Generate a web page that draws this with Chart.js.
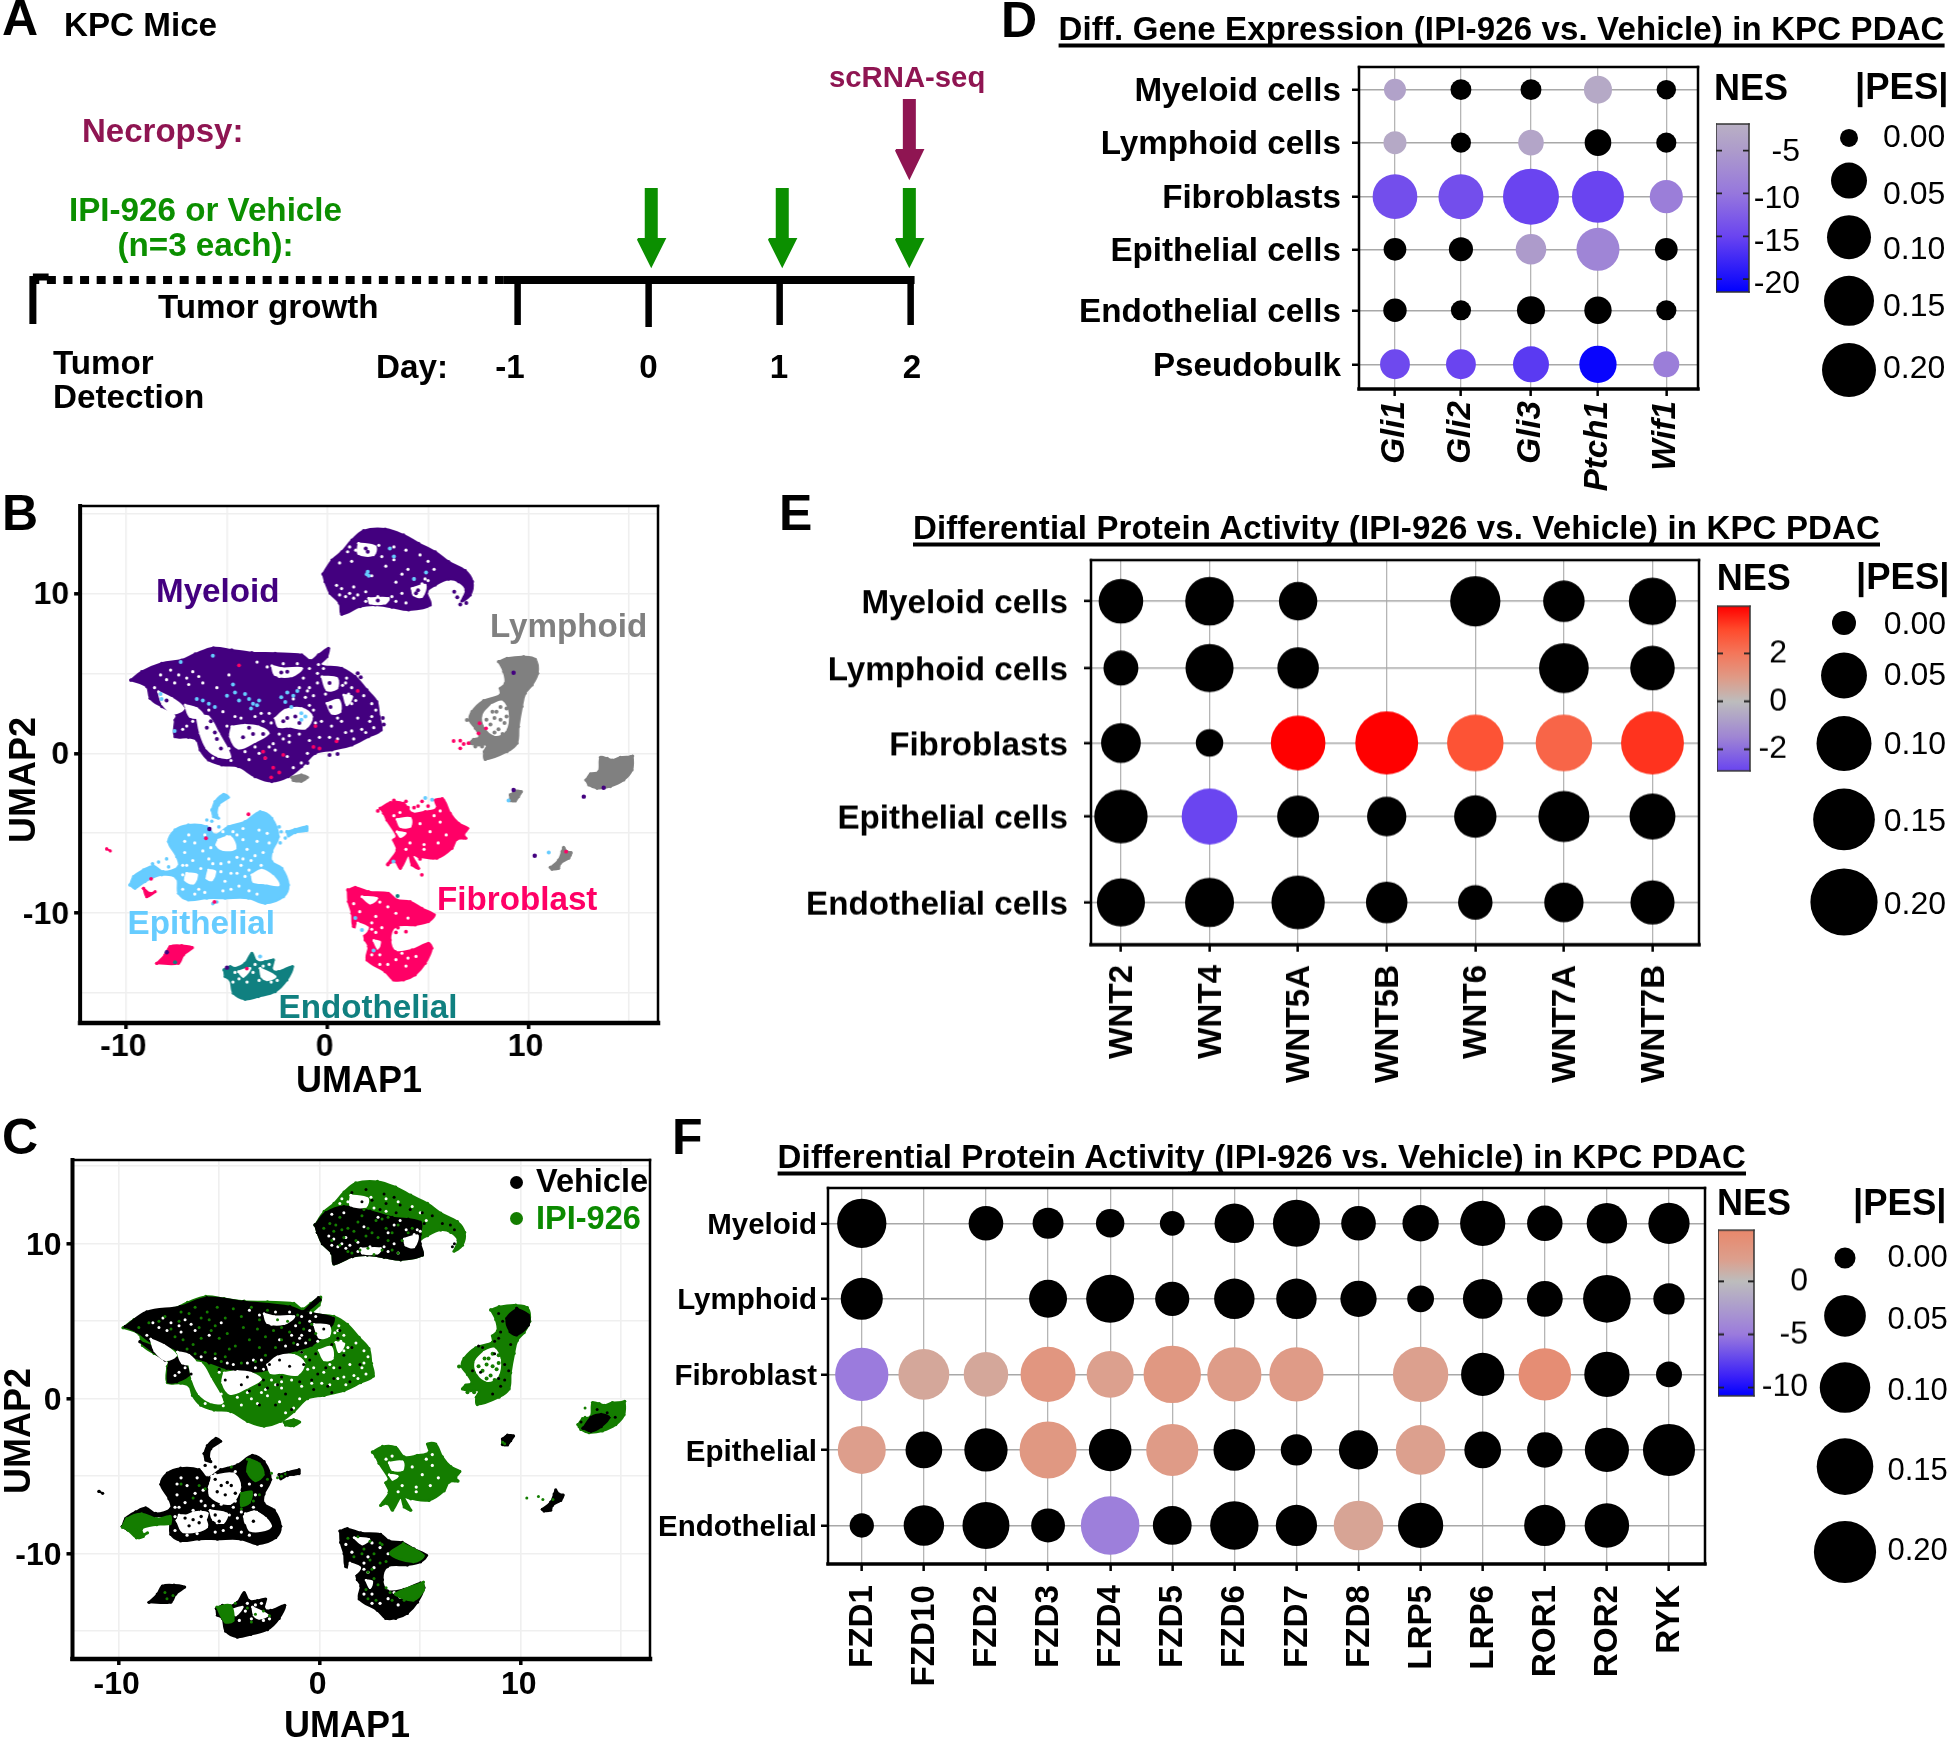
<!DOCTYPE html>
<html><head><meta charset="utf-8">
<style>html,body{margin:0;padding:0;background:#fff;width:1950px;height:1739px;overflow:hidden}
#page{position:relative;width:1950px;height:1739px;overflow:hidden}canvas{position:absolute}
.t{position:absolute;white-space:pre;line-height:1;font-family:"Liberation Sans",Arial,sans-serif;z-index:5}</style>
<script src="https://cdn.jsdelivr.net/npm/chart.js@4"></script></head><body><div id="page"></div>
<script>
/* ---------- D : Gene expression ---------- */
const D_rows=['Myeloid cells','Lymphoid cells','Fibroblasts','Epithelial cells','Endothelial cells','Pseudobulk'];
const D_cols=['Gli1','Gli2','Gli3','Ptch1','Wif1'];
const D_pes=[[.011,.008,.008,.028,.004],[.014,.006,.021,.024,.006],[.106,.108,.225,.175,.042],[.013,.017,.035,.094,.013],[.015,.006,.028,.026,.006],[.033,.033,.05,.058,.022]];
const D_nes=[[-4,null,null,-3,null],[-3,null,-3.5,null,null],[-14,-14,-15,-15,-9],[null,null,-5,-8,null],[null,null,null,null,null],[-14.5,-15,-16,-21,-9]];
const D_rowPos=[0,.981,1.981,2.956,4.085,5.085];
const D_colPos=[0,.97,2,2.985,3.99];
/* ---------- E : WNT ---------- */
const E_rows=['Myeloid cells','Lymphoid cells','Fibroblasts','Epithelial cells','Endothelial cells'];
const E_cols=['WNT2','WNT4','WNT5A','WNT5B','WNT6','WNT7A','WNT7B'];
const E_pes=[[.047,.065,.033,null,.074,.04,.058],[.025,.062,.04,null,null,.071,.047],[.036,.008,.098,.161,.111,.111,.161],[.091,.106,.041,.035,.042,.078,.05],[.062,.067,.091,.04,.024,.035,.046]];
const E_nes=[[null,null,null,null,null,null,null],[null,null,null,null,null,null,null],[null,null,3.97,3.97,2.8,2.4,3.3],[null,-2.9,null,null,null,null,null],[null,null,null,null,null,null,null]];
const E_rowPos=[0,.954,2.023,3.073,4.299];
const E_colPos=[0,1,2,3,4,5,6];
/* ---------- F : FZD ---------- */
const F_rows=['Myeloid','Lymphoid','Fibroblast','Epithelial','Endothelial'];
const F_cols=['FZD1','FZD10','FZD2','FZD3','FZD4','FZD5','FZD6','FZD7','FZD8','LRP5','LRP6','ROR1','ROR2','RYK'];
const F_pes=[[.093,null,.033,.024,.018,.009,.045,.08,.033,.037,.07,.035,.047,.049],
[.052,null,null,.041,.086,.032,.047,.047,.037,.014,.045,.036,.084,.025],
[.123,.103,.066,.137,.08,.157,.13,.13,null,.14,.059,.116,.07,.012],
[.086,.038,.059,.154,.055,.113,.05,.025,.044,.095,.038,.035,.064,.113],
[.008,.047,.08,.031,.168,.043,.088,.049,.095,.07,null,.049,.066,null]];
const F_nes=[[null,null,null,null,null,null,null,null,null,null,null,null,null,null],
[null,null,null,null,null,null,null,null,null,null,null,null,null,null],
[-5,1.5,1.5,3.2,2,3,2.5,2.6,null,2,null,4.2,null,null],
[2.2,null,null,3,null,2.6,null,null,null,2,null,null,null,null],
[null,null,null,null,-4.7,null,null,null,1.7,null,null,null,null,null]];
const F_rowPos=[0,1,2,3,4];
const F_colPos=[0,1,2,3,4,5,6,7,8,9,10,11,12,13];
/* ---------- legends ---------- */
const PES_levels=[0,.05,.1,.15,.2];
const PES_labels=['0.00','0.05','0.10','0.15','0.20'];
/* ---------- B / C : UMAP traced clusters, in UMAP units ---------- */
const umapTicks=[-15,-10,-5,0,5,10,15];
const MY_TOP=[[-.23,11.21],[.22,12.08],[.71,12.6],[1.21,13.33],[1.79,13.92],[2.87,14.02],[3.78,13.65],[4.53,13.13],[5.36,12.6],[6.02,11.98],[6.85,11.42],[7.21,10.73],[7.1,9.9],[6.68,9.52],[6.88,10.21],[6.52,10.73],[6.02,10.88],[5.36,10.52],[4.94,10.1],[5.11,9.27],[4.03,8.96],[3.2,9.13],[2.37,9.27],[1.63,9.17],[.71,8.69],[.6,9.38],[.13,10],[-.12,10.73]];
const MY_MAIN=[[-9.78,4.58],[-9.24,5.1],[-8.24,5.63],[-7.25,5.83],[-6.58,6.21],[-5.67,6.6],[-4.76,6.46],[-3.76,6.29],[-2.6,6.25],[-1.28,6.15],[-.86,5.79],[-.45,6.15],[.05,6.56],[-.03,6.04],[-.36,5.52],[.71,5.31],[1.38,4.79],[1.96,3.96],[2.45,3.23],[2.57,2.29],[2.67,1.46],[2.04,1.04],[1.21,.52],[.22,.21],[-.61,0],[-1.28,-.83],[-1.94,-1.46],[-2.77,-1.77],[-3.6,-1.46],[-4.43,-.83],[-5.26,-.73],[-5.92,-.42],[-6.33,.21],[-6.5,.83],[-6.92,1],[-7.58,1.04],[-7.58,2.08],[-7.5,2.4],[-8.24,2.92],[-8.82,3.44],[-8.99,4.17]];
const MY_HOLES=[[[-6.5,2.29],[-5.92,2.29],[-5.42,1.25],[-4.84,-.21],[-5.42,-.21],[-6,.31],[-6.33,1.25]],
[[-8.41,3.85],[-7.74,3.44],[-7.16,2.81],[-7.66,2.5],[-8.21,3.08]],
[[-7.08,3.02],[-6.5,2.81],[-6.17,2.29],[-6.83,2.29]],
[[-4.76,1.67],[-4.1,1.77],[-3.43,1.67],[-2.94,1.25],[-3.6,.73],[-4.43,.31],[-4.84,1.04]],
[[-2.6,2.19],[-2.1,2.71],[-1.28,2.81],[-.78,2.29],[-1.11,1.56],[-1.94,1.67],[-2.44,1.67]],
[[-.28,4.79],[.46,4.69],[.46,4.06],[-.03,3.96]],
[[-.03,3.13],[.55,3.33],[.63,2.6],[.22,2.5]],
[[-2.77,5.48],[-2.27,5.31],[-1.28,5.31],[-1.77,4.83],[-2.6,4.9]],
[[.8,3.65],[1.21,3.54],[.96,3.02]],
[[1.54,13.13],[2.37,12.92],[2.29,12.4],[1.54,12.48]],
[[4.2,10.31],[4.86,10.52],[4.69,9.79],[4.28,9.9]],
[[2.04,9.69],[3.03,9.69],[2.87,9.38],[2.12,9.38]]];
const MY_SPECKS=[[-8.3,4.9],[-8,4.6],[-7.4,4.9],[-7,4.7],[-6.9,4.3],[-6.4,4.8],[-6.2,4.4],[-8.6,4.1],[-5.9,2.7],[-5.2,2.6],[-4.6,2.3],[-4.3,2.2],[-5,1.7],[-3.2,2],[-2.9,2.5],[-2.8,1.9],[-2.4,1.2],[-1.9,1.1],[-1.4,1.2],[-.6,1.9],[-.3,2],[-3,5.4],[-2.4,4.8],[-1.5,5.6],[-.9,5.3],[-.5,5],[-.2,5.3],[-1.2,4.7],[-2,3.8],[-1.4,4.1],[-1.7,3.4],[.9,4.4],[1.2,4.1],[1.2,3.1],[1.5,2.2],[2.2,2.3],[2.1,2],[1.7,1.5],[1.2,1.4],[.9,1.3],[2.3,1.6],[.2,1.7],[.7,2],[-3.4,0],[-3.1,-.3],[-2.6,.2],[-2,-.2],[-1.7,-.9],[-1.3,-.6],[-1,0],[-.7,-.3],[-1.9,.7],[-2.7,.6],[-5.3,.7],[-4.9,.3],[-5.7,-.3],[-4.8,-.45],
[-7.8,5.2],[-7.6,4.4],[-6.7,5.1],[-5.5,4.1],[-4.9,4.9],[-3.5,5.7],[-2.2,5.6],[-3.6,2.3],[-3.3,2.5],[-2.2,.9],[-2.9,.4],[-3.6,.4],[-4.1,.1],[-3.9,-.4],[-.9,.8],[-.4,1],[.1,1],[.5,.9],[1.3,.9],[1.9,1.3],[2.4,2.7],[2.2,3.1],[1.8,3.6],[1.4,3.3],[-.1,3.7],[.5,2.2],[-.9,3],[-.7,2.7],[-.7,3.6],[-1.1,3.5],[-6.7,2],[-7,1.7],[-7.2,1.5],[-.5,4.4],[-.9,4.1],[-1,3.9],[.95,4.7],[.75,4.25],[1.05,3.7],[-.45,5.55],
[1,12.6],[1.2,12],[2.7,12.3],[2.9,11.7],[3.9,12.7],[4.6,12.4],[5,12],[5.3,11.5],[1.1,10],[.9,9.8],[1.5,9.9],[1.9,10.1],[2.5,9.8],[3.2,9.8],[3.7,10],[4.3,10.9],[3.4,10.7],[2.2,11.1],[.7,10.3],[3.3,12.9],[.6,11.9],[1.4,12.7],[1.1,12.9],[2.55,13],[3.3,12.1],[4,11.5],[3.7,11.2],[4.7,10.6],[5,10.8],[4.85,10.9],[3.9,9.4],[3.4,9.5],[1.9,9.5],[1.3,9.7],[1.3,10.4],[.6,9.9],[.45,10.5]];
const MY_BACK=[[-5.6,1.3],[-5.5,.9],[-6,1.6],[-5.8,2],[-5.3,.3],[-4.2,1],[-3.7,1.2],[-3.9,1.6],[-3.2,1.2],[-2,2.2],[-1.6,2.3],[-1.4,1.9],[-2.2,2],[.1,4.4],[.15,2.9],[-2,5.1],[-2.3,5.05],[1.9,12.8],[2,12.6],[4.5,10.2],[4.4,10],[2.5,9.55],[-8,3.3],[6.6,9.3],[6.45,9.75],[6.3,10.1],[6.9,9.4],[1.65,4.75],[1.5,5],[2.8,1.8],[2.75,2.2],[.5,-.05],[.1,-.1],[-1,-.6]];
const MY_CYAN=[[-6.5,3.4],[-6.2,3.3],[-5.9,3.1],[-5.6,2.9],[-5,3.6],[-4.6,3.8],[-4.4,3.3],[-4.1,3.7],[-3.9,3.4],[-3.7,3.1],[-3.5,3],[-3.4,3.3],[-3.8,2.8],[-2.3,3.5],[-2.1,3.2],[-2,3.8],[-1.7,3.6],[-1.5,3.9],[-1.8,2.9],[-1.3,2.5],[-1.1,2.3],[-1.3,2.1],[-8.3,3.7],[-8.25,3.4],[-7.3,5.7],[-5.7,6.1],[-4.7,4.3],[-7.6,1.4],[1.95,11.2],[2.05,11.1],[2,11.35],[3.3,12.3],[4.9,11.3],[4.3,10.9],[3.1,12.8],[1.38,-10.3],[1.71,-11.04],[2.29,-12.33],[3.28,-6.77],[4.86,-2.8],[5.2,-2.9],[-3.35,-12.7],[11,-6.2],[9,-2.95]];
const PINK_DOTS=[[-4.4,5.5],[1.5,3.9],[-.6,1.7],[-3.2,.1],[-3.1,-.3],[-2.2,-.1],[-2.7,-.9],[-2.4,-1.2],[-2.8,-1.5],[-.7,.4],[-.4,.3],[.45,.75],[6.27,.77],[6.6,.79],[6.77,.58],[7.01,.63],[6.6,.31],[7.51,1.25],[7.88,1.56],[7.56,1.88],[11.86,-6.15],[-6.04,-5.31],[-3.93,-3.81],[-8.77,-7.85],[-5.62,-9.29],[-4.01,-13.46],[4.7,-3],[4,-3.4],[4.5,-3.3],[4.69,-7.6],[2.5,-3.6],[3.3,-2.95],[3.9,-3],[4.3,-3.4],[5.7,-2.85],[5,-3.3],[4.6,-6.6],[5.1,-6.5],[3,-6.95],[2.6,-12.3],[3.5,-10.9],[3.9,-11.15],[3.4,-11.2]];
const PURPLE_DOTS=[[9.25,5.04],[9.25,-2.29],[10.3,-6.4],[12.74,-2.71],[13.73,-2.15],[-5.87,-4.73],[-5,-13.4],[-7.99,-12.44]];
const LY_MAIN=[[8.51,5.73],[8.92,5.94],[9.75,6.04],[10.33,5.88],[10.45,5],[10.17,4.27],[9.83,3.75],[9.67,2.92],[9.5,1.67],[9.42,.63],[8.92,.1],[7.84,-.38],[7.79,.1],[7.93,.52],[7.51,.52],[7.1,.63],[7.26,.88],[7.56,1],[7.35,1.56],[7.06,2.08],[7.18,2.6],[7.76,3.29],[8.59,3.65],[8.59,4.06],[8.84,4.38],[8.76,5.1]];
const LY_HOLE=[[8.18,3.02],[8.67,3.23],[8.96,2.5],[8.84,1.46],[8.34,1.15],[7.84,1.67],[7.76,2.4]];
const LY_DOTS=[[8.4,2.6],[8.6,2.9],[8.9,2.8],[8.3,2.2],[8.6,2.1],[8.8,1.9],[8.1,1.8],[8.5,1.5],[8.9,2.3],[8.3,1.3],[8.7,1.2],[7.9,2.1],[8.2,2.6],[6.93,2.08],[7.35,.42],[7.68,.42]];
const LY_RIGHT=[[12.85,-1.67],[13.07,-1.29],[13.48,-1.15],[13.57,-.25],[13.9,-.31],[14.15,-.42],[14.56,-.25],[15.06,-.21],[15.17,-.17],[15.14,-1.04],[14.73,-1.67],[14.06,-2.08],[13.4,-2.19],[12.99,-1.98]];
const LY_SMALL=[[9.09,-2.6],[9.34,-2.35],[9.64,-2.4],[9.5,-2.71],[9.34,-2.98],[9.09,-2.96]];
const LY_LOW=[[11.08,-7.13],[11.49,-6.67],[11.66,-6.15],[11.74,-5.88],[11.91,-6.15],[12.11,-6.21],[11.99,-6.56],[11.58,-6.88],[11.49,-7.19],[11.16,-7.25]];
const LY_UNDER=[[-1.77,-1.5],[-1.3,-1.35],[-1,-1.5],[-1.3,-1.75],[-1.7,-1.7]];
const EP_MAIN=[[-9.82,-8.23],[-9.65,-7.71],[-9.15,-7.29],[-8.66,-7.04],[-8.16,-7.4],[-7.41,-7.08],[-7.5,-6.46],[-7.91,-5.52],[-7.58,-4.79],[-6.92,-4.48],[-6,-4.58],[-5.59,-5.1],[-4.93,-4.58],[-4.1,-4.27],[-3.35,-3.65],[-2.77,-4.06],[-2.44,-5.21],[-2.77,-6.15],[-2.77,-6.77],[-2.27,-7.19],[-1.94,-8.23],[-2.19,-8.96],[-3.1,-9.38],[-3.93,-9.06],[-5.09,-9.06],[-6,-9.06],[-6.92,-9.17],[-7.41,-8.75],[-7.5,-7.81],[-8.24,-7.6],[-9.07,-8.02],[-9.57,-8.44]];
const EP_TENT=[[-5.75,-3.54],[-5.59,-3.02],[-5.17,-2.56],[-4.93,-2.75],[-5.42,-3.23],[-5.51,-3.85],[-5.42,-4.06],[-5.67,-3.96]];
const EP_STREAK=[[-2.02,-4.9],[-1.61,-4.75],[-1.03,-4.58],[-1.03,-4.83],[-1.61,-4.96],[-1.94,-5.17]];
const EP_HOLES=[[[-3.76,-7.6],[-3.27,-7.29],[-2.69,-7.71],[-2.44,-8.23],[-3.1,-8.13],[-3.68,-8.02]],
[[-5.42,-5.42],[-4.84,-5.21],[-4.59,-5.94],[-5.17,-6.04],[-5.51,-5.73]],
[[-7,-7.5],[-6.5,-7.6],[-6.67,-8.13],[-7.08,-7.92]],
[[-5.92,-7.29],[-5.59,-7.4],[-5.75,-7.92],[-6,-7.81]]];
const EP_SPECKS=[[-6.6,-5.6],[-6.2,-6.1],[-5.9,-6.6],[-6.7,-6.7],[-7.1,-6.2],[-4.5,-6.5],[-4.2,-5.4],[-4,-6],[-4.3,-7],[-3.8,-6.7],[-3.5,-5.5],[-3.2,-6.2],[-4.8,-7.5],[-5.1,-8],[-4.4,-8.3],[-4.1,-7.7],[-5.3,-6.9],[-6.4,-8.5],[-5.2,-8.6],[-7.2,-8.5],[-3.9,-8.6],[-6.9,-5.1],[-4.7,-4.9],[-4.5,-5.1],[-4.2,-4.7],[-7.1,-5.5],[-7,-7],[-6.1,-5.1],[-5.8,-5.9],[-5.7,-6.9],[-6.3,-7.2],[-5.3,-7.4],[-4.9,-6.8],[-4.2,-6.6],[-4.5,-7.5],[-3.9,-7.3],[-4.8,-8.5],[-3.5,-8.8],[-6.1,-8.7],[-6.6,-8.8],[-7.2,-7.6],[-7.2,-7],[-3.4,-4.8],[-3,-5],[-2.9,-5.6],[-3.6,-6.4],[-3.3,-7],[-5.2,-4.9],[-5,-5.2]];
const EP_OUT=[[-6,-4.17],[-5.75,-4.25],[-5.4,-4.6],[-2.4,-4.6],[-2.3,-4.9],[-2.1,-5.3],[-2.35,-5.6],[-8,-6.6],[-8.4,-6.8],[-8.7,-6.9],[-7.9,-7.1],[-5.7,-9.4],[-5.5,-9.3]];
const FB_UP=[[2.62,-3.44],[3.12,-3.08],[3.78,-3.13],[4.2,-3.75],[4.86,-3.65],[5.44,-3.44],[5.36,-2.92],[5.77,-2.92],[6.1,-3.75],[6.52,-4.38],[6.97,-4.69],[6.77,-5.1],[6.88,-5.31],[6.43,-5.38],[6.19,-5.94],[5.44,-6.56],[4.53,-6.46],[4.2,-6.35],[4.53,-7.19],[4.2,-6.98],[4.03,-6.35],[3.62,-7.19],[3.37,-6.77],[3.03,-6.88],[3.45,-6.04],[3.28,-5.42],[3.45,-5.21],[2.95,-4.17],[2.79,-3.75]];
const FB_UP_HOLES=[[[3.45,-4.13],[4.11,-4.06],[4.11,-4.58],[3.62,-4.58]],[[3.45,-4.9],[3.86,-5],[3.62,-5.21]]];
const FB_UP_SPECKS=[[3.6,-3.7],[3.3,-3.9],[4.6,-4.4],[5.1,-4.9],[5.6,-4.3],[5.5,-5.6],[4.8,-5.7],[4.1,-5.6],[5.9,-5.1],[5.3,-3.9],[4.8,-6],[3.9,-6],[5.6,-3.6],[5.2,-3.3],[4.9,-3.45]];
const FB_LOW=[[1.01,-8.54],[1.38,-8.38],[2.04,-8.65],[3.03,-8.75],[3.45,-9.17],[4.11,-9.27],[4.69,-9.69],[5.31,-10.1],[5.02,-10.52],[4.36,-10.73],[3.37,-10.83],[3.12,-11.67],[3.37,-12.4],[4.2,-12.29],[5.02,-11.88],[5.19,-12.19],[4.86,-13.13],[4.36,-13.85],[3.78,-14.17],[3.28,-14.17],[2.87,-13.65],[1.96,-12.92],[2.04,-12.08],[1.87,-11.67],[1.71,-11.04],[1.29,-10.83],[1.21,-10],[1.04,-9.27]];
const FB_LOW_HOLES=[[[1.71,-8.96],[2.45,-9.06],[2.12,-9.38]],[[1.5,-10.6],[2,-10.9],[1.75,-11.3],[1.45,-11.1]],[[2.3,-11.7],[2.6,-11.8],[2.5,-12.2]]];
const FB_LOW_SPECKS=[[1.3,-9.4],[2.6,-9.3],[3,-9.6],[3.4,-10],[4,-10.3],[2.4,-10.2],[2.2,-10.6],[1.6,-9.9],[2.4,-11.2],[2.7,-10.9],[2.2,-11],[2.6,-12.6],[3.4,-12.9],[4,-12.8],[4.4,-12.7],[3.9,-13.3],[3,-13.2],[2.6,-13.2],[3.7,-12.5],[2.2,-12.6]];
const FB_SMALL=[[-8.49,-13.13],[-8.08,-12.6],[-7.83,-12.08],[-7.25,-12.02],[-6.72,-12.15],[-7.16,-12.6],[-7.41,-13.13]];
const FB_TAIL=[[-9.15,-8.44],[-8.82,-8.75],[-8.57,-8.65],[-8.99,-8.96]];
const FB_LEFT=[[-10.98,-5.98],[-10.8,-6.1]];
const EN_MAIN=[[-5.14,-13.54],[-4.84,-13.33],[-4.59,-13.44],[-4.1,-13.13],[-3.76,-12.5],[-3.52,-13.02],[-3.1,-13.02],[-2.69,-12.92],[-2.77,-13.54],[-2.44,-13.65],[-1.74,-13.33],[-2.02,-14.17],[-2.6,-14.9],[-3.43,-15.21],[-4.1,-15.38],[-4.68,-15],[-4.84,-14.17],[-5.09,-13.96]];
const EN_HOLES=[[[-3.35,-13.44],[-2.6,-13.96],[-3.01,-14.17],[-3.27,-13.96]],[[-4.43,-13.65],[-3.85,-13.44],[-4.18,-13.96]]];
const EN_SPECKS=[[-4.6,-13.7],[-4.4,-14.1],[-3.7,-13.7],[-3.4,-14.2],[-2.8,-14.3],[-2.5,-14.2],[-2.9,-13.2],[-3.2,-13.3],[-4.7,-14.3],[-4,-14.3],[-3.6,-13.2]];
/* ---------- C only : treatment overlay, UMAP units ---------- */
const C_BLACK_TOP=[[-.23,11.21],[.3,12],[1.2,12.4],[2.5,12.1],[3.6,11.7],[5,11.4],[5,10.6],[5,10],[5.11,9.27],[4.03,8.96],[3.2,9.13],[2.37,9.27],[1.63,9.17],[.71,8.69],[.6,9.38],[.13,10],[-.12,10.73]];
const C_BLACK_MAIN=[[-9.68,4.65],[-8.61,5.61],[-6.95,5.94],[-5.62,6.52],[-3.8,6.26],[-1.48,5.94],[-.81,5.61],[.68,5.18],[.35,4.32],[-.4,3.46],[-1.14,3.14],[-1.81,2.82],[-2.47,1.96],[-3.47,1.74],[-4.63,1.96],[-5.54,2.39],[-6.62,2.82],[-7.45,3.35],[-8.28,3.57],[-9.1,4.32]];
const C_BLACK_LOW=[[-7.45,2.82],[-6.78,2.39],[-6.53,1.53],[-7.11,1.1],[-7.53,1.1],[-7.53,1.96]];
const C_BLACK_STRIP=[[-8.94,3.68],[-8.28,3.03],[-7.69,2.49],[-7.9,3.1]];
const C_BLACK_SPIKE=[[-.81,5.61],[-.07,6.52],[.02,6.37],[-.56,5.72]];
const C_BLACK_LY=[[9.8,5.83],[10.38,5.4],[10.38,4.75],[9.8,4.11],[9.47,4.32],[9.3,5.18]];
const C_BLACK_LYR=[[13.1,-1.9],[13.5,-1.2],[14,-1],[14.4,-1.2],[14,-1.8],[13.5,-2.1]];
const C_GREEN_EPTAIL=[[-9.82,-8.28],[-9.6,-7.74],[-8.86,-7.42],[-8.11,-7.74],[-7.45,-7.59],[-7.45,-8.06],[-8.11,-8.13],[-8.86,-8.39],[-8.78,-8.88],[-9.12,-8.97],[-9.53,-8.49]];
const C_GREEN_EPUP=[[-3.5,-3.9],[-3,-4.2],[-2.8,-4.9],[-3.2,-5.3],[-3.6,-4.7]];
const C_GREEN_EPMID=[[-3.9,-6.1],[-3.4,-6],[-3.5,-6.7],[-3.9,-6.9]];
const C_GREEN_EN=[[-5.12,-13.44],[-4.46,-13.33],[-4.3,-14.3],[-4.71,-14.41]];
const C_GREEN_FB1=[[4.16,-9.35],[5.16,-10.11],[4.66,-10.54],[3.5,-10]];
const C_GREEN_FB2=[[5.16,-11.83],[5.16,-12.37],[4.66,-13.01],[4,-12.8],[3.75,-12.58]];
const C_EP_HOLES=[[[-5.37,-5],[-4.3,-4.84],[-3.96,-5.7],[-4.46,-6.77],[-5.46,-6.24]],[[-7.11,-7.85],[-6.04,-7.31],[-5.62,-8.28],[-6.78,-8.6]],[[-3.71,-7.42],[-3.13,-7.31],[-2.47,-8.28],[-3.47,-8.49]],[[-5.46,-7.2],[-4.63,-7.42],[-4.8,-8],[-5.3,-7.8]]];
const C_EP_BLACKDOTS=[[-5.2,-5.2],[-4.9,-5.6],[-4.6,-5.4],[-5.1,-6],[-4.7,-6.2],[-4.4,-5.6],[-4.2,-6.1],[-6.7,-7.7],[-6.3,-7.8],[-6.5,-8.2],[-6,-8],[-5.9,-7.6],[-5.2,-7.5],[-5,-7.9],[-3.3,-7.9],[-5.5,-3.9],[-5.7,-4.3],[-5.2,-4.4],[-4.6,-4.5]];
const C_BLACK_OVER=[[1.6,13.3],[2.3,13.5],[3.2,13.2],[3.7,13],[3.3,12.6],[4,12.5],[4.5,12.2],[5.1,12],[5.6,11.8],[6.1,11.3],[6.5,11.2],[6.7,10.9],[2.6,12.8],[4.4,11.6],[5.2,11.3],[6.7,10],[6.6,9.8],[3.8,12],[3,12.2],[2.1,12.7],[.3,2],[-.4,1.2],[-2.2,-.4],[-3,.9],[-1.5,2.1],[-.2,2.9],[-.6,3.4],[.6,.4],[-1.9,1.4],[-4.2,1.9],[-3.6,1.4],[-2.9,1.8],[-3.9,.9],[-2.5,2.2],[-2,2.5],[-5,1.9],[-5.5,2.3],[-6.4,1.6],[.2,4.5],[.6,4.8],[8.9,5.5],[9.1,5],[9.4,4.7],[9,4.3],[8.9,3.9],[8.7,3.7],[7.9,3.4],[8.1,3.3],[9.5,3.5],[9.2,2.2],[9.4,1.8],[8.9,1.3],
[-3.5,.5],[-2.6,.7],[-1.7,.3],[-1,1.1],[-.3,.6],[.7,1.3],[1.5,1.1],[2,2.2],[1.2,2.8],[.6,3.5],[-3,-.4],[-1.4,-.7],[-.8,2.2],[-2.8,1.2],[-4.7,1.2],[-2.1,.9],[.4,.8],[1,2],[-.1,1.6],[-.5,2.5],[-.9,3],[1,4.4],[.9,3.9],[1.6,3.3],[9,.8],[8.6,.3],[9.2,1.2],[8,1.7],[8.7,2.9],[7.6,1.8],[13.8,-.7],[14.3,-.9],[13,-1.5],[14.7,-1.2]];
const C_GREEN_OVER=[[.5,11.3],[1,11.7],[1.4,11],[1.9,11.4],[2.4,11],[2.8,11.5],[3.3,11],[3.9,11.2],[4.4,10.7],[1.2,10.4],[1.8,10.2],[2.3,10.5],[2.9,10.4],[3.4,10.2],[2,9.6],[2.7,9.3],[1.4,9.5],[3.6,9.6],[.7,10.8],[-8,5],[-7,5],[-6.5,5.5],[-6,4.6],[-5.6,5.6],[-5.2,4.7],[-5,3.9],[-6.3,3.5],[-5.7,3],[-4.7,2.7],[-4.3,5.8],[-4.2,3.4],[-3.5,3.8],[-3,5.1],[-2.7,4],[-2.2,3.3],[-1.6,5],[-1.1,5.4],[-1.9,4.6],[-.8,4.5],[-.5,3.8],[-5.5,5.1],[-6.8,3.8],[-7.2,4],[-4.9,2.4],[-2.4,-4.8],[-2.6,-5.2],[-2.1,-5.1],[-3.6,-3.9],[-4.4,-4.4],[-3,-6.2],[-3.3,-6.6],[-3.9,-7.1],[-7.7,-12.5],[-7.3,-12.7],[-7.6,-12.9],[-4.2,-13.2],[-3.6,-13.5],[-3.2,-13.9],[-2.8,-13.7],[-3.4,-14.4],[-2.5,-14],[1.7,-10.2],[2.2,-9.7],[2.7,-10],[3,-10.6],[2.6,-11],[3,-9.3],[2.8,-13],[3.5,-12.5],[2.3,-12.3],[10.3,-6.41],[10.88,-6.3],[11.1,-6.5],[11.6,-6.5],[13.2,-.6],[14.6,-.7],[14.9,-.5],[14.5,-1.1],[13.2,-1.2],[12.9,-1.8],[9.1,-2.8],[9.2,-2.9],[-1.7,-4.85],[-1.9,-5],
[-9,4.6],[-8.5,4.9],[-7.7,5.3],[-7.4,4.5],[-6.9,5.6],[-6.2,5.9],[-5.9,5.2],[-5.9,3.9],[-5.4,4.4],[-5.1,5.9],[-4.7,5.2],[-4.6,4.2],[-4.5,3.2],[-3.9,5.3],[-3.8,4.6],[-3.4,5.9],[-3.1,4.5],[-3,3.3],[-2.6,5.7],[-2.3,4.4],[-2.1,5.1],[-1.9,3.8],[-1.5,4.3],[-1.3,3.6],[-1,4.9],[-.4,4.8],[-.2,4.2],[.1,3.7],[-6.6,3.2],[-6.2,2.9],[-5.2,2.9],[-3.9,2.3],[-3.2,2.4],[-2.7,2.8],[.2,11],[.8,11.2],[1.1,10.9],[1.7,10.8],[2.1,11.8],[2.6,10.7],[3.1,11.6],[3.6,10.7],[4.1,10.2],[4.6,11],[1,9.9],[1.6,9.4],[2.4,9.7],[3.1,9.6],[3.9,9.4],[.6,10.2],[2.2,12.2],[3.4,11.7],[1.4,-9],[1.9,-8.9],[2.5,-9.2],[3.1,-9.4],[2.1,-10],[2.5,-10.4],[3.3,-10.5],[2.4,-11.2],[2.7,-11.6],[2.9,-12],[3.3,-12.2],[3.6,-13],[4.2,-13],[2.4,-12.9],[-6.9,-5.5],[-6,-5.6],[-6.3,-6.4],[-5.7,-5.8]];
const C_EP_LINE=[[-1.61,-4.85],[-1.03,-4.66],[-1.3,-4.9]];
/* ---------- colour ramps (NES value, colour) ---------- */
const D_ramp=[[-21.5,'#0000ff'],[-20,'#1a10fa'],[-15,'#6a44f0'],[-10,'#9677dd'],[-5,'#ad9bcb'],[-1.9,'#b9b0c4']];
const E_ramp=[[-2.9,'#6a45f0'],[-1.5,'#9f85d4'],[0,'#bdbdbd'],[1,'#e09a86'],[2,'#f4775b'],[3,'#ff4a2c'],[3.97,'#ff0000']];
const F_ramp=[[-10.8,'#0000ff'],[-9,'#3a20f8'],[-5,'#9b7bdd'],[0,'#bdbdbd'],[2,'#dca08e'],[4.83,'#e8886c']];
/* ---------- helpers ---------- */
const page=document.getElementById('page');
const FF='"Liberation Sans",Arial,sans-serif';
Chart.defaults.animation=false;Chart.defaults.font.family=FF;Chart.defaults.events=[];
Chart.defaults.plugins.legend.display=false;Chart.defaults.plugins.tooltip.enabled=false;
function T(s,x,y,o={}){const e=document.createElement('div');e.className='t';e.textContent=s;
 const ax=o.align==='c'?-50:o.align==='r'?-100:0;
 e.style.cssText+=`left:${x}px;top:${y}px;font-size:${o.size||33.2}px;font-weight:${o.weight||'bold'};color:${o.color||'#000'};transform:translate(${ax}%,-50%)${o.rot?' rotate(-90deg)':''};`;
 if(o.ul){e.style.textDecoration='underline';e.style.textDecorationThickness='3.5px';e.style.textUnderlineOffset='4px';e.style.textDecorationSkipInk='none';}
 page.appendChild(e);
 if(o.w){const cur=e.getBoundingClientRect().width;e.style.letterSpacing=((o.w-cur)/s.length)+'px';}
 return e;}
function canvas(l,t,w,h){const c=document.createElement('canvas');c.width=w;c.height=h;c.style.left=l+'px';c.style.top=t+'px';c.style.width=w+'px';c.style.height=h+'px';page.appendChild(c);return c;}
const P=a=>a.map(p=>({x:p[0],y:p[1]}));
function poly(a,color,r=1.6,tension=.35){const p=P(a);p.push(p[0]);return {type:'scatter',data:p,showLine:true,fill:'shape',tension,borderColor:color,backgroundColor:color,borderWidth:2,pointRadius:r,pointBackgroundColor:color,pointBorderWidth:0};}
function dots(a,color,r=1.7){return {type:'scatter',data:P(a),showLine:false,pointRadius:r,pointBackgroundColor:color,pointBorderWidth:0,backgroundColor:color};}
function hexRgb(h){return [1,3,5].map(i=>parseInt(h.substr(i,2),16));}
function rampColor(ramp,v){if(v==null)return '#000000';if(v<=ramp[0][0])return ramp[0][1];
 for(let i=1;i<ramp.length;i++){if(v<=ramp[i][0]){const f=(v-ramp[i-1][0])/(ramp[i][0]-ramp[i-1][0]),a=hexRgb(ramp[i-1][1]),b=hexRgb(ramp[i][1]);return 'rgb('+a.map((c,k)=>Math.round(c+(b[k]-c)*f)).join(',')+')';}}
 return ramp[ramp.length-1][1];}
function sizeOf(tab,p){let i=1;while(i<tab.length-1&&p>PES_levels[i])i++;const f=(p-PES_levels[i-1])/(PES_levels[i]-PES_levels[i-1]);return (tab[i-1]+(tab[i]-tab[i-1])*f)/2;}
const framePlugin={id:'frame',afterDraw(c,_,o){const a=c.chartArea,x=c.ctx;x.save();x.strokeStyle=o.color||'#000';x.lineCap='square';
 const L=(w,x1,y1,x2,y2)=>{x.lineWidth=w;x.beginPath();x.moveTo(x1,y1);x.lineTo(x2,y2);x.stroke();};
 L(o.top,a.left,a.top,a.right,a.top);L(o.right,a.right,a.top,a.right,a.bottom);L(o.left,a.left,a.top,a.left,a.bottom);L(o.bottom,a.left,a.bottom,a.right,a.bottom);x.restore();}};
function dotplot(b,cfg){const ml=cfg.ml,mb=cfg.mb,mt=60,mr=50,w=b.r-b.l,h=b.b-b.t;const c=canvas(b.l-ml,b.t-mt,w+ml+mr,h+mt+mb);
 const data=[];cfg.pes.forEach((row,i)=>row.forEach((p,j)=>{if(p!=null)data.push({x:cfg.colPos[j],y:cfg.rowPos[i],r:sizeOf(cfg.sizes,p),col:rampColor(cfg.ramp,cfg.nes[i][j])});}));
 new Chart(c,{type:'bubble',data:{datasets:[{data,clip:false,borderWidth:0,backgroundColor:data.map(d=>d.col)}]},plugins:[framePlugin],
 options:{responsive:false,layout:{autoPadding:false,padding:{top:mt,right:mr,left:0,bottom:0}},
 plugins:{frame:{top:2.5,right:2.5,left:2.5,bottom:3.5}},
 scales:{x:{type:'linear',min:cfg.x[0],max:cfg.x[1],afterFit:s=>{s.height=mb;},afterBuildTicks:s=>{s.ticks=cfg.colPos.map(v=>({value:v}));},
   border:{display:false},grid:{color:'#b5b5b5',lineWidth:1.3,tickColor:'#000',tickWidth:2.5,tickLength:7},
   ticks:{autoSkip:false,maxRotation:90,minRotation:90,padding:cfg.xpad,labelOffset:cfg.xoff,color:'#000',font:{size:33.2,weight:'bold',style:cfg.italic?'italic':'normal'},callback:(v,i)=>cfg.cols[i]}},
  y:{type:'linear',reverse:true,min:cfg.y[0],max:cfg.y[1],afterFit:s=>{s.width=ml;},afterBuildTicks:s=>{s.ticks=cfg.rowPos.map(v=>({value:v}));},
   border:{display:false},grid:{color:'#a8a8a8',lineWidth:1.5,tickColor:'#000',tickWidth:2.5,tickLength:7},
   ticks:{autoSkip:false,padding:cfg.ypad,labelOffset:cfg.yoff,color:'#000',font:{size:cfg.ysize||33.2,weight:'bold'},callback:(v,i)=>cfg.rows[i]}}}}});}
function sizeLegend(cx,ys,sizes){const y0=ys[0]-45,y1=ys[4]+45,c=canvas(cx-45,y0,90,y1-y0);
 const data=PES_levels.map((p,i)=>({x:0,y:ys[i],r:sizeOf(sizes,p)}));
 new Chart(c,{type:'bubble',data:{datasets:[{data,clip:false,borderWidth:0,backgroundColor:'#000'}]},
 options:{responsive:false,layout:{autoPadding:false,padding:0},scales:{x:{display:false,min:-45,max:45},y:{display:false,reverse:true,min:y0,max:y1}}}});}
function colorbar(b,ramp,vmin,vmax,ticks,labw,hideLabels){const mt=30,c=canvas(b.l,b.t-mt,b.r-b.l+labw,b.b-b.t+2*mt);
 const tick={id:'cbt',afterDraw(ch){const y=ch.scales.y,a=ch.chartArea,x=ch.ctx;x.save();x.strokeStyle='#222';x.lineWidth=1.8;ticks.forEach(v=>{const p=y.getPixelForValue(v);x.beginPath();x.moveTo(a.left,p);x.lineTo(a.left+6,p);x.moveTo(a.right-6,p);x.lineTo(a.right,p);x.stroke();});x.restore();}};
 new Chart(c,{type:'bar',data:{labels:[''],datasets:[{data:[[vmin,vmax]],categoryPercentage:1,barPercentage:1,borderWidth:0,backgroundColor(ctx){const a=ctx.chart.chartArea;if(!a)return '#888';const g=ctx.chart.ctx.createLinearGradient(0,a.bottom,0,a.top);ramp.forEach(s=>g.addColorStop(Math.min(1,Math.max(0,(s[0]-vmin)/(vmax-vmin))),s[1]));return g;}}]},plugins:[framePlugin,tick],
 options:{responsive:false,layout:{autoPadding:false,padding:{top:mt,bottom:mt,left:0,right:0}},plugins:{frame:{top:1.5,right:1.5,left:1.5,bottom:1.5,color:'#333'}},
 scales:{x:{display:false},y:{position:'right',min:vmin,max:vmax,afterFit:s=>{s.width=labw;},afterBuildTicks:s=>{s.ticks=ticks.map(v=>({value:v}));},border:{display:false},grid:{display:false,drawTicks:false},
   ticks:{crossAlign:'far',padding:0,color:'#000',font:{size:32,weight:'normal'},callback:v=>hideLabels?'':String(v)}}}}});}
function umap(b,xr,yr,datasets,wid,xpad,xoff,yoff){const ml=b.l,mb=62,mt=50,mr=40,c=canvas(0,b.t-mt,b.r+mr,b.b-b.t+mt+mb);
 datasets.forEach((d,i)=>{d.order=-i;d.clip=false;});
 const grid={color:'#efefef',lineWidth:1.6,tickWidth:3.5,tickLength:6,tickColor:t=>t.tick&&t.tick.value%10===0?'#000':'rgba(0,0,0,0)'};
 new Chart(c,{type:'scatter',data:{datasets},plugins:[framePlugin],
 options:{responsive:false,layout:{autoPadding:false,padding:{top:mt,right:mr,left:0,bottom:0}},plugins:{frame:wid},
 scales:{x:{type:'linear',min:xr[0],max:xr[1],border:{display:false},afterFit:s=>{s.height=mb;},afterBuildTicks:s=>{s.ticks=umapTicks.slice(1).map(v=>({value:v}));},grid,
   ticks:{autoSkip:false,maxRotation:0,padding:xpad,labelOffset:xoff,color:'#000',font:{size:32,weight:'bold'},callback:v=>v%10===0?String(v):''}},
  y:{type:'linear',min:yr[0],max:yr[1],border:{display:false},afterFit:s=>{s.width=ml;},afterBuildTicks:s=>{s.ticks=umapTicks.map(v=>({value:v}));},grid,
   ticks:{autoSkip:false,padding:5,labelOffset:yoff,color:'#000',font:{size:32,weight:'bold'},callback:v=>v%10===0?String(v):''}}}}});}
/* ---------- Panel A : timeline in days ---------- */
(function(){const G='#0b8f00',M='#8f1552';const c=canvas(0,0,1000,450);
 const seg=(a,col,w,dash)=>({type:'scatter',data:P(a),showLine:true,borderColor:col,borderWidth:w,borderDash:dash||[],pointRadius:0,fill:false,tension:0,clip:false});
 const head=(d,top,tip,col)=>poly([[d-.103,top],[d+.103,top],[d,tip]],col,0,0);
 const ds=[seg([[-4.72,0],[-1.11,0]],'#000',8,[9,7.6]),seg([[-1.11,0],[2.03,0]],'#000',8),
  seg([[-4.7,4],[-4.7,-44]],'#000',7),seg([[-4.7,3],[-4.58,3]],'#000',7),
  seg([[-1,0],[-1,-45]],'#000',6.5),seg([[0,0],[0,-47]],'#000',6.5),seg([[1,0],[1,-45]],'#000',6.5),seg([[2,0],[2,-45]],'#000',6.5)];
 [.02,1.02,1.99].forEach(d=>{ds.push(seg([[d,92],[d,41]],G,13));ds.push(head(d,41,14,G));});
 ds.push(seg([[1.99,181],[1.99,130]],M,13));ds.push(head(1.99,130,102,M));
 ds.forEach((d,i)=>{d.order=-i;});
 new Chart(c,{type:'scatter',data:{datasets:ds},options:{responsive:false,layout:{autoPadding:false,padding:0},scales:{x:{display:false,min:-4.951,max:2.682},y:{display:false,min:-170,max:280}}}});
 T('KPC Mice',64,24.5);T('scRNA-seq',829,77,{size:29.3,color:M});T('Necropsy:',82,130,{color:M,size:33});
 T('IPI-926 or Vehicle',205.5,209.5,{color:G,size:33.2,align:'c'});T('(n=3 each):',205.5,244.5,{color:G,size:33.2,align:'c'});
 T('Tumor growth',158,306.5);T('Tumor',53,362.5);T('Detection',53,397);T('Day:',376,366.5);
 T('-1',510,366.5,{align:'c'});T('0',648.6,366.5,{align:'c'});T('1',779,366.5,{align:'c'});T('2',912,366.5,{align:'c'});})();
/* ---------- Panel B ---------- */
const PUR='#43007f',GRY='#808080',CYA='#66ccff',PNK='#ff0066',TEA='#108080';
(function(){const ds=[];
 ds.push(poly(MY_TOP,PUR),poly(MY_MAIN,PUR));MY_HOLES.forEach(h=>ds.push(poly(h,'#fff',1.2)));ds.push(dots(MY_SPECKS,'#fff',1.6),dots(MY_BACK,PUR,2));
 ds.push(poly(LY_MAIN,GRY),poly(LY_HOLE,'#fff',1),dots(LY_DOTS,GRY,2),poly(LY_RIGHT,GRY),poly(LY_SMALL,GRY),poly(LY_LOW,GRY),poly(LY_UNDER,GRY));
 ds.push(poly(EP_MAIN,CYA),poly(EP_TENT,CYA),poly(EP_STREAK,CYA));EP_HOLES.forEach(h=>ds.push(poly(h,'#fff',1.2)));ds.push(dots(EP_SPECKS,'#fff',1.6),dots(EP_OUT,CYA,1.8));
 ds.push(poly(FB_UP,PNK));FB_UP_HOLES.forEach(h=>ds.push(poly(h,'#fff',1.2)));ds.push(poly(FB_LOW,PNK));FB_LOW_HOLES.forEach(h=>ds.push(poly(h,'#fff',1.2)));
 ds.push(dots(FB_UP_SPECKS,'#fff',1.6),dots(FB_LOW_SPECKS,'#fff',1.6));
 ds.push(poly(FB_SMALL,PNK),poly(FB_TAIL,PNK),poly(FB_LEFT,PNK));
 ds.push(poly(EN_MAIN,TEA));EN_HOLES.forEach(h=>ds.push(poly(h,'#fff',1.2)));ds.push(dots(EN_SPECKS,'#fff',1.6));
 ds.push(dots(MY_CYAN,CYA,2),dots(PINK_DOTS,PNK,1.9),dots(PURPLE_DOTS,PUR,2.2),dots([[3.48,-8.92],[-7.58,-13.06]],TEA,2));
 umap({l:80,t:506,r:657.5,b:1023},[-12.3,16.43],[-16.86,15.46],ds,{top:2.5,right:2.5,left:4,bottom:4.5},-1,-3,2);
 T('Myeloid',156,591,{color:PUR});T('Lymphoid',490,626,{color:GRY});T('Epithelial',127.5,923,{color:CYA});T('Fibroblast',437,898.5,{color:PNK});T('Endothelial',278.5,1007,{color:TEA});
 T('UMAP1',359,1080,{size:36,align:'c'});T('UMAP2',23,780,{size:36,align:'c',rot:true});})();
/* ---------- Panel C ---------- */
(function(){const GR='#147d00',BK='#000',ds=[];
 ds.push(poly(MY_TOP,GR),poly(MY_MAIN,GR),poly(C_BLACK_TOP,BK),poly(C_BLACK_MAIN,BK),poly(C_BLACK_LOW,BK),poly(C_BLACK_STRIP,BK),poly(C_BLACK_SPIKE,BK));
 MY_HOLES.forEach(h=>ds.push(poly(h,'#fff',1.2)));ds.push(dots(MY_SPECKS,'#fff',1.5));
 ds.push(poly(LY_MAIN,GR),poly(LY_HOLE,'#fff',1),dots(LY_DOTS,GR,2),poly(C_BLACK_LY,BK),poly(LY_RIGHT,GR),poly(C_BLACK_LYR,BK),poly(LY_SMALL,BK),poly(LY_LOW,BK),poly(LY_UNDER,GR));
 ds.push(poly(EP_MAIN,BK),poly(EP_TENT,BK),poly(EP_STREAK,BK));EP_HOLES.forEach(h=>ds.push(poly(h,'#fff',1.2)));C_EP_HOLES.forEach(h=>ds.push(poly(h,'#fff',1.2)));
 ds.push(dots(EP_SPECKS,'#fff',1.6),dots(C_EP_BLACKDOTS,BK,1.7),poly(C_GREEN_EPTAIL,GR),poly(FB_TAIL,GR),poly(C_GREEN_EPUP,GR,1.3),poly(C_GREEN_EPMID,GR,1.3));
 ds.push(poly(FB_UP,GR));FB_UP_HOLES.forEach(h=>ds.push(poly(h,'#fff',1.2)));ds.push(dots(FB_UP_SPECKS,'#fff',1.6));ds.push(poly(FB_LOW,BK));FB_LOW_HOLES.forEach(h=>ds.push(poly(h,'#fff',1.2)));ds.push(dots(FB_LOW_SPECKS,'#fff',1.6));
 ds.push(poly(C_GREEN_FB1,GR,1.3),poly(C_GREEN_FB2,GR,1.3));
 ds.push(poly(FB_SMALL,BK),poly(FB_LEFT,BK),poly(EN_MAIN,BK));EN_HOLES.forEach(h=>ds.push(poly(h,'#fff',1.2)));ds.push(dots(EN_SPECKS,'#fff',1.6),poly(C_GREEN_EN,GR,1.3));
 ds.push(dots(C_BLACK_OVER,BK,1.5),dots(C_GREEN_OVER,GR,1.5),poly(C_EP_LINE,BK,1));
 umap({l:72.5,t:1160,r:650,b:1659},[-12.3,16.43],[-16.79,15.4],ds,{top:2.5,right:2.5,left:4,bottom:4.5},1,-2,2);
 T('Vehicle',536,1181,{size:32.5});T('IPI-926',536,1218,{size:32.5,color:'#0b8a00'});
 [[1182,'#000'],[1218,GR]].forEach(a=>{const d=document.createElement('div');d.style.cssText=`position:absolute;left:509.5px;top:${a[0]-6.5}px;width:13px;height:13px;border-radius:50%;background:${a[1]};z-index:5`;page.appendChild(d);});
 T('UMAP1',347,1725,{size:36,align:'c'});T('UMAP2',18,1431,{size:36,align:'c',rot:true});})();
/* ---------- Panels D, E, F ---------- */
dotplot({l:1359,t:67,r:1698,b:389},{ml:345,mb:130,rows:D_rows,cols:D_cols,rowPos:D_rowPos,colPos:D_colPos,pes:D_pes,nes:D_nes,ramp:D_ramp,sizes:[18,36,44,50,54],x:[-.529,4.456],y:[-.42,5.543],xpad:5,ypad:11,xoff:0,yoff:2.5,italic:true});
colorbar({l:1715.7,t:124,r:1749.5,b:292},D_ramp,-21.5,-1.9,[-5,-10,-15,-20],51,true);
[['-5',150],['-10',196.7],['-15',240],['-20',281.7]].forEach(a=>T(a[0],1800,a[1],{weight:'normal',size:32,align:'r'}));
sizeLegend(1848.6,[138,180.7,237.3,301,370.3],[18,36,44,50,54]);
T('Diff. Gene Expression (IPI-926 vs. Vehicle) in KPC PDAC',1058.6,28.3,{size:33,w:886,ul:true});
T('NES',1714,88.3,{size:36});T('|PES|',1855,87,{size:36.5});
[136,192.7,248,305,367].forEach((y,i)=>T(PES_labels[i],1883,y,{weight:'normal',size:32}));
dotplot({l:1090.6,t:560.4,r:1699.4,b:944.7},{ml:310,mb:165,rows:E_rows,cols:E_cols,rowPos:E_rowPos,colPos:E_colPos,pes:E_pes,nes:E_nes,ramp:E_ramp,sizes:[24,45.9,55,61.7,67.2],x:[-.338,6.525],y:[-.587,4.903],xpad:13,ypad:16,xoff:2,yoff:3});
colorbar({l:1716.7,t:605.9,r:1749.8,b:770.7},E_ramp,-2.9,3.97,[2,0,-2],37);
sizeLegend(1843.8,[623.3,675.8,743.9,819.8,902.4],[24,45.9,55,61.7,67.2]);
T('Differential Protein Activity (IPI-926 vs. Vehicle) in KPC PDAC',913,527,{size:33,w:967,ul:true});
T('NES',1716.7,578,{size:36});T('|PES|',1856,577,{size:36.5});
[622.5,673.9,743,820,903].forEach((y,i)=>T(PES_labels[i],1883.7,y,{weight:'normal',size:32}));
dotplot({l:827.8,t:1188.2,r:1704.8,b:1564.5},{ml:170,mb:160,rows:F_rows,cols:F_cols,rowPos:F_rowPos,colPos:F_colPos,pes:F_pes,nes:F_nes,ramp:F_ramp,sizes:[21,41.7,50.5,56.6,62.2],x:[-.544,13.58],y:[-.467,4.51],xpad:14,ypad:4,xoff:1,yoff:2.5,ysize:29.5});
colorbar({l:1718,t:1230.3,r:1754,b:1395.6},F_ramp,-10.8,4.83,[0,-5,-10],54);
sizeLegend(1844.7,[1258.4,1316.2,1388,1467,1552.4],[21,41.7,50.5,56.6,62.2]);
T('Differential Protein Activity (IPI-926 vs. Vehicle) in KPC PDAC',777.6,1156,{size:33,w:968.4,ul:true});
T('NES',1717,1202.7,{size:36});T('|PES|',1853,1203,{size:36.5});
[1256.4,1317.8,1388.8,1469,1549].forEach((y,i)=>T(PES_labels[i],1887.5,y,{weight:'normal',size:31}));
/* panel letters */
[['A',2,17.5],['B',2,513],['C',2,1137],['D',1001,20],['E',779,513],['F',672,1137]].forEach(a=>T(a[0],a[1],a[2],{size:50}));
</script></body></html>
